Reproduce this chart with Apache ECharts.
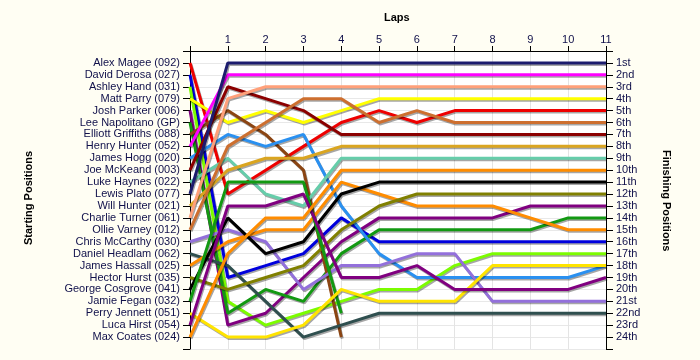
<!DOCTYPE html>
<html><head><meta charset="utf-8">
<script src="https://cdn.jsdelivr.net/npm/echarts@6/dist/echarts.min.js"></script>
<style>html,body{margin:0;padding:0;background:#fffef3;}#c{width:700px;height:360px;}</style>
</head><body><div id="c"></div>
<script>
var drivers = ["Alex Magee (092)","David Derosa (027)","Ashley Hand (031)","Matt Parry (079)","Josh Parker (006)","Lee Napolitano (GP)","Elliott Griffiths (088)","Henry Hunter (052)","James Hogg (020)","Joe McKeand (003)","Luke Haynes (022)","Lewis Plato (077)","Will Hunter (021)","Charlie Turner (061)","Ollie Varney (012)","Chris McCarthy (030)","Daniel Headlam (062)","James Hassall (025)","Hector Hurst (035)","George Cosgrove (041)","Jamie Fegan (032)","Perry Jennett (051)","Luca Hirst (054)","Max Coates (024)"];
var finishLabels = ["1st","2nd","3rd","4th","5th","6th","7th","8th","9th","10th","11th","12th","13th","14th","15th","16th","17th","18th","19th","20th","21st","22nd","23rd","24th"];
var lapTicks = [1,2,3,4,5,6,7,8,9,10,11];

// positions per driver, lap 0 (start) .. lap 11
var alexMagee      = [1,12,10,8,6,5,6,5,5,5,5,5];
var davidDerosa    = [2,19,18,17,14,16,16,16,16,16,16,16];
var ashleyHand     = [3,21,23,22,21,20,20,18,17,17,17,17];
var mattParry      = [4,6,5,6,5,4,4,4,4,4,4,4];
var joshParker     = [5,23,22,19,16,14,14,14,14,13,13,13];
var leeNapolitano  = [6,22,20,21,17,15,15,15,15,15,14,14];
var elliottGriff   = [7,5,7,10,24];
var henryHunter    = [8,2,2,2,2,2,2,2,2,2,2,2];
var jamesHogg      = [9,7,8,7,13,17,19,19,19,19,19,18];
var joeMcKeand     = [10,3,4,5,7,7,7,7,7,7,7,7];
var lukeHaynes     = [11,9,12,13,9,9,9,9,9,9,9,9];
var lewisPlato     = [12,1,1,1,1,1,1,1,1,1,1,1];
var willHunter     = [13,10,9,9,8,8,8,8,8,8,8,8];
var charlieTurner  = [14,4,3,3,3,3,3,3,3,3,3,3];
var ollieVarney    = [15,8,6,4,4,6,5,6,6,6,6,6];
var chrisMcCarthy  = [16,15,16,20,18,18,17,17,21,21,21,21];
var danielHeadlam  = [17,18,21,24,23,22,22,22,22,22,22,22];
var jamesHassall   = [18,16,15,15,11,12,13,13,13,14,15,15];
var hectorHurst    = [19,20,19,18,15,13,12,12,12,12,12,12];
var georgeCosgrove = [20,14,17,16,12,11,11,11,11,11,11,11];
var jamieFegan     = [21,11,11,11,22];
var perryJennett   = [22,24,24,23,20,21,21,21,18,18,18,18];
var lucaHirst      = [23,13,13,12,19,19,18,20,20,20,20,19];
var maxCoates      = [24,17,14,14,10,10,10,10,10,10,10,10];

var allPositions = [alexMagee,davidDerosa,ashleyHand,mattParry,joshParker,leeNapolitano,elliottGriff,henryHunter,jamesHogg,joeMcKeand,lukeHaynes,lewisPlato,willHunter,charlieTurner,ollieVarney,chrisMcCarthy,danielHeadlam,jamesHassall,hectorHurst,georgeCosgrove,jamieFegan,perryJennett,lucaHirst,maxCoates];
var colors = ['#ee0000','#0000dd','#7cfc00','#ffff00','#800080','#129912','#8b4513','#ff00ff','#2a90f0','#8b0000','#66cdaa','#1c1c6e','#daa520','#ffa07a','#cd6f2f','#9370db','#2f4f4f','#ff8c00','#808000','#000000','#129912','#ffe400','#800080','#ff8c00'];

var series = allPositions.map(function(arr, i){
  return {
    type:'line', name: drivers[i], symbol:'none', silent:true, animation:false,
    data: arr.map(function(p, lap){ return [lap, p]; }),
    lineStyle:{color:colors[i], width:3, shadowColor:'rgba(0,0,0,0.35)', shadowBlur:0, shadowOffsetX:1, shadowOffsetY:1.5},
    z: 2
  };
});

var txt = '#10104a';
var chart = echarts.init(document.getElementById('c'), null, {renderer:'canvas'});
chart.setOption({
  backgroundColor:'#fffef3',
  animation:false,
  grid:{left:190, right:94, top:51, bottom:11, containLabel:false, show:true, backgroundColor:'#ffffff', borderWidth:0},
  xAxis:{type:'value', position:'top', min:0, max:11, interval:1,
    axisLine:{show:true, lineStyle:{color:'#000', width:1}},
    axisTick:{show:true, length:5, lineStyle:{color:'#000'}},
    axisLabel:{color:txt, fontSize:11, fontFamily:'Liberation Sans, Arial', margin:6,
      formatter:function(v){ return lapTicks.indexOf(v) >= 0 ? String(v) : ''; }},
    splitLine:{show:true, lineStyle:{color:'#e4e4e4', width:1}}
  },
  yAxis:[
    {type:'value', inverse:true, min:0, max:25, interval:1, position:'left',
      axisLine:{show:true, lineStyle:{color:'#000', width:1}},
      axisTick:{show:true, length:7, lineStyle:{color:'#000'}},
      axisLabel:{color:txt, fontSize:11, fontFamily:'Liberation Sans, Arial', margin:10,
        formatter:function(v){ return drivers[v-1] || ''; }},
      splitLine:{show:true, lineStyle:{color:'#e8e8e8', width:1}}
    },
    {type:'value', inverse:true, min:0, max:25, interval:1, position:'right',
      axisLine:{show:true, lineStyle:{color:'#000', width:1}},
      axisTick:{show:true, length:7, lineStyle:{color:'#000'}},
      axisLabel:{color:txt, fontSize:11, fontFamily:'Liberation Sans, Arial', margin:10,
        formatter:function(v){ return finishLabels[v-1] || ''; }},
      splitLine:{show:false}
    }
  ],
  graphic:[
    {type:'text', left:384, top:12, style:{text:'Laps', fill:'#000', font:'bold 11px Liberation Sans, Arial'}},
    {type:'text', x:23, y:245, rotation:Math.PI/2, style:{text:'Starting Positions', fill:'#000', font:'bold 11px Liberation Sans, Arial'}},
    {type:'text', x:672, y:150, rotation:-Math.PI/2, style:{text:'Finishing Positions', fill:'#000', font:'bold 11px Liberation Sans, Arial'}}
  ],
  series: series
});
</script></body></html>
